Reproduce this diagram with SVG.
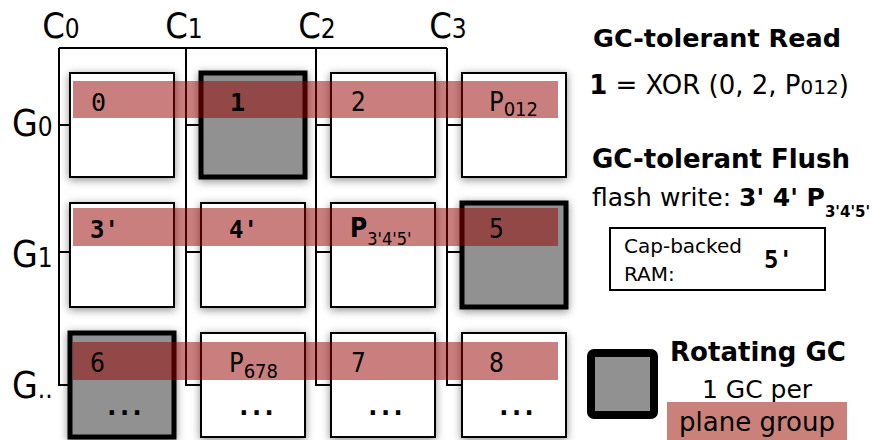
<svg xmlns="http://www.w3.org/2000/svg" width="872" height="440" viewBox="0 0 872 440">
<defs>
<filter id="sh" x="-20%" y="-20%" width="140%" height="140%">
<feDropShadow dx="0" dy="2" stdDeviation="4" flood-color="#000" flood-opacity="0.45"/>
</filter>
</defs>
<style>
.box{fill:#fff;stroke:#000;stroke-width:2}
.gc{fill:#919191;stroke:#000;stroke-width:5}
.band{fill:#960000;fill-opacity:0.5}
.ln{fill:none;stroke:#000;stroke-width:2}
.t{font-family:"DejaVu Sans Condensed","DejaVu Sans",sans-serif;fill:#000}
.r{font-family:"DejaVu Sans",sans-serif;fill:#000}
.m{font-family:"DejaVu Sans Mono",monospace;fill:#000}
.b{font-weight:bold}
.dots{font-family:"DejaVu Sans Mono",monospace;font-weight:bold;font-size:26px;letter-spacing:-3px;text-anchor:middle}
</style>
<rect width="872" height="440" fill="#fff"/>
<g id="connectors">
<path class="ln" d="M59,48 H447 M59,48 V385 H70 M59,125 H70 M59,252 H70 M186,48 V385 H201 M186,125 H201 M186,252 H201 M316,48 V385 H331 M316,125 H331 M316,252 H331 M447,48 V385 H462 M447,125 H462 M447,252 H462"/>
</g>
<g id="labels">
<text class="t" x="61" y="38" font-size="36" text-anchor="middle">C<tspan font-size="26">0</tspan></text>
<text class="t" x="184" y="38" font-size="36" text-anchor="middle">C<tspan font-size="26">1</tspan></text>
<text class="t" x="317" y="38" font-size="36" text-anchor="middle">C<tspan font-size="26">2</tspan></text>
<text class="t" x="448" y="38" font-size="36" text-anchor="middle">C<tspan font-size="26">3</tspan></text>
<text class="t" x="12" y="136" font-size="37">G<tspan font-size="26">0</tspan></text>
<text class="t" x="12" y="267" font-size="37">G<tspan font-size="26">1</tspan></text>
<text class="t" x="12" y="398" font-size="37">G<tspan font-size="26">..</tspan></text>
</g>
<g id="n0"><rect class="box" x="70" y="73" width="104" height="104" filter="url(#sh)"/></g>
<g id="n1"><rect class="gc" x="201" y="73" width="104" height="104" filter="url(#sh)"/></g>
<g id="n2"><rect class="box" x="331" y="73" width="104" height="104" filter="url(#sh)"/></g>
<g id="nP012"><rect class="box" x="462" y="73" width="104" height="104" filter="url(#sh)"/></g>
<g id="n3"><rect class="box" x="70" y="203" width="104" height="104" filter="url(#sh)"/></g>
<g id="n4"><rect class="box" x="201" y="203" width="104" height="104" filter="url(#sh)"/></g>
<g id="nP345"><rect class="box" x="331" y="203" width="104" height="104" filter="url(#sh)"/></g>
<g id="n5"><rect class="gc" x="462" y="203" width="104" height="104" filter="url(#sh)"/></g>
<g id="n6"><rect class="gc" x="70" y="333" width="104" height="104" filter="url(#sh)"/></g>
<g id="nP678"><rect class="box" x="201" y="333" width="104" height="104" filter="url(#sh)"/></g>
<g id="n7"><rect class="box" x="331" y="333" width="104" height="104" filter="url(#sh)"/></g>
<g id="n8"><rect class="box" x="462" y="333" width="104" height="104" filter="url(#sh)"/></g>
<g id="bands">
<rect class="band" x="73" y="81" width="485" height="37"/>
<rect class="band" x="73" y="208" width="485" height="38"/>
<rect class="band" x="73" y="342" width="485" height="38"/>
</g>
<g id="n0-text"><text class="m" x="91" y="111" font-size="25">0</text></g>
<g id="n1-text"><text class="m b" x="230" y="111" font-size="25">1</text></g>
<g id="n2-text"><text class="t" x="351" y="111" font-size="26">2</text></g>
<g id="nP012-text"><text class="t" x="489" y="111" font-size="27">P<tspan font-size="20" dy="5">012</tspan></text></g>
<g id="n3-text"><text class="m b" x="90" y="238" font-size="24">3'</text></g>
<g id="n4-text"><text class="m b" x="229" y="238" font-size="24">4'</text></g>
<g id="nP345-text"><text class="t b" x="350" y="237" font-size="26">P<tspan font-size="18" dy="8" font-weight="normal">3'4'5'</tspan></text></g>
<g id="n5-text"><text class="t" x="489" y="238" font-size="26">5</text></g>
<g id="n6-text"><text class="t" x="90" y="372" font-size="26">6</text><text class="dots" x="123" y="415">...</text></g>
<g id="nP678-text"><text class="t" x="229" y="372" font-size="27">P<tspan font-size="20" dy="6">678</tspan></text><text class="dots" x="255" y="415">...</text></g>
<g id="n7-text"><text class="t" x="351" y="372" font-size="26">7</text><text class="dots" x="384" y="415">...</text></g>
<g id="n8-text"><text class="t" x="489" y="372" font-size="26">8</text><text class="dots" x="515" y="415">...</text></g>
<g id="legend-read">
<text class="r b" x="717" y="47" font-size="25.5" text-anchor="middle">GC-tolerant Read</text>
<text class="r" x="719" y="94" font-size="26" text-anchor="middle"><tspan font-weight="bold">1</tspan> = XOR (0, 2, P<tspan font-size="20">012</tspan>)</text>
</g>
<g id="legend-flush">
<text class="r b" x="721" y="168" font-size="26" text-anchor="middle">GC-tolerant Flush</text>
<text class="r" x="592" y="206" font-size="25">flash write: <tspan font-weight="bold">3' 4' P</tspan><tspan font-weight="bold" font-size="15" dy="11">3'4'5'</tspan></text>
</g>
<g id="cap-ram">
<rect x="610" y="228" width="215" height="62" fill="#fff" stroke="#000" stroke-width="2"/>
<text class="r" x="624" y="253" font-size="20">Cap-backed</text>
<text class="r" x="624" y="281" font-size="20">RAM:</text>
<text class="m b" x="764" y="268" font-size="24">5'</text>
</g>
<g id="legend-gc">
<rect x="591" y="353" width="63" height="62" rx="3" fill="#919191" stroke="#000" stroke-width="8"/>
<text class="r b" x="758" y="361" font-size="26" text-anchor="middle">Rotating GC</text>
<text class="r" x="757" y="398" font-size="25" text-anchor="middle">1 GC per</text>
<rect x="667" y="402" width="180" height="38" fill="#c98179"/>
<text class="r" x="757" y="431" font-size="26" text-anchor="middle">plane group</text>
</g>
</svg>
